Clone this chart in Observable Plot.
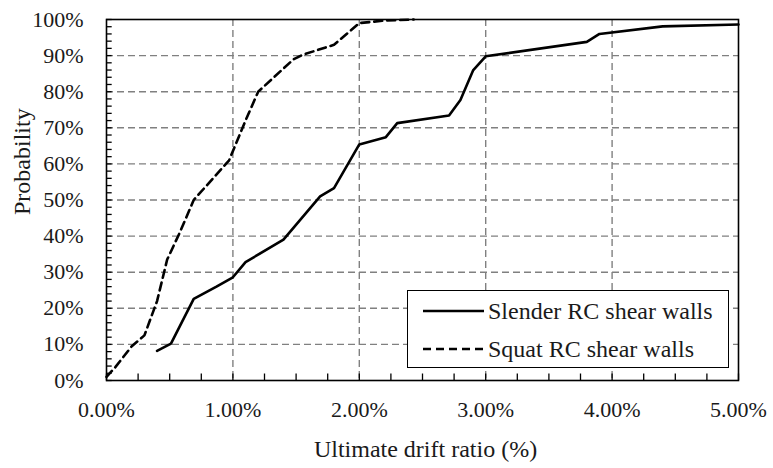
<!DOCTYPE html>
<html>
<head>
<meta charset="utf-8">
<script src="https://cdn.jsdelivr.net/npm/d3@7"></script>
<script src="https://cdn.jsdelivr.net/npm/@observablehq/plot@0.6"></script>
<style>
  html, body { margin: 0; padding: 0; background: #fff; }
  #wrap { position: relative; width: 773px; height: 468px; font-family: "Liberation Serif", "Times New Roman", serif; }
  #legend { position: absolute; left: 407px; top: 290px; width: 322px; height: 78px; border: 1.5px solid #000; background: #fff; box-sizing: border-box; }
  .row { position: absolute; left: 0; height: 26px; display: flex; align-items: center; font-size: 24px; color: #1a1a1a; white-space: nowrap; }
  .row svg { margin-left: 15px; margin-right: 4px; }
</style>
</head>
<body>
<div id="wrap"></div>
<script>
// Ultimate drift ratio (%) vs probability (%)
const slenderX = [0.40, 0.51, 0.69, 0.87, 1.00, 1.10, 1.40, 1.69, 1.80, 2.00, 2.21, 2.30, 2.71, 2.80, 2.90, 3.00, 3.80, 3.90, 4.40, 5.00];
const slenderY = [8.2, 10.2, 22.6, 26.0, 28.6, 32.8, 39.0, 51.0, 53.3, 65.4, 67.4, 71.3, 73.4, 77.7, 85.9, 89.8, 93.8, 96.0, 98.1, 98.6];
const squatX = [0.00, 0.07, 0.20, 0.30, 0.40, 0.48, 0.58, 0.69, 0.97, 1.10, 1.20, 1.48, 1.55, 1.80, 2.00, 2.20, 2.43];
const squatY = [1.0, 3.7, 9.5, 12.5, 22.0, 33.5, 41.0, 50.0, 61.0, 72.0, 80.0, 89.0, 90.2, 93.0, 99.0, 99.7, 100.0];
const seriesNames = ["Slender RC shear walls", "Squat RC shear walls"];
const xTicks = [0, 1, 2, 3, 4, 5];
const yTicks = [0, 10, 20, 30, 40, 50, 60, 70, 80, 90, 100];
const xGrid = [1, 2, 3, 4];
const yGrid = [10, 20, 30, 40, 50, 60, 70, 80, 90];
const xMinor = d3.range(0, 5.001, 0.25);
const yMinor = d3.range(0, 100.001, 2);
const xLabel = "Ultimate drift ratio (%)";
const yLabel = "Probability";

const slender = slenderX.map((x, i) => ({x, y: slenderY[i]}));
const squat = squatX.map((x, i) => ({x, y: squatY[i]}));

const gridStyle = {stroke: "#808080", strokeOpacity: 1, strokeWidth: 1.4, strokeDasharray: "7,4"};

const chart = Plot.plot({
  width: 773,
  height: 468,
  marginLeft: 106,
  marginRight: 35,
  marginTop: 19,
  marginBottom: 88,
  x: {domain: [0, 5]},
  y: {domain: [0, 100]},
  style: {fontFamily: "'Liberation Serif', 'Times New Roman', serif", fontSize: "22px", color: "#1a1a1a", background: "#fff", overflow: "visible"},
  marks: [
    Plot.gridX(xGrid, gridStyle),
    Plot.gridY(yGrid, gridStyle),
    Plot.ruleX(xMinor, {y1: 0, y2: 1.8, stroke: "#000", strokeWidth: 1.3}),
    Plot.ruleY(yMinor, {x1: 0, x2: 0.045, stroke: "#000", strokeWidth: 1.3}),
    Plot.line(squat, {x: "x", y: "y", stroke: "#000", strokeWidth: 2.6, strokeDasharray: "8,5"}),
    Plot.line(slender, {x: "x", y: "y", stroke: "#000", strokeWidth: 2.6}),
    Plot.frame({stroke: "#000", strokeWidth: 1.6}),
    Plot.axisX(xTicks, {tickSize: 0, tickPadding: 21, fontSize: 22, tickFormat: d => d.toFixed(2) + "%", label: null, fill: "#1a1a1a"}),
    Plot.axisY(yTicks, {tickSize: 0, tickPadding: 23, fontSize: 22, tickFormat: d => d + "%", label: null, fill: "#1a1a1a"}),
    Plot.text([xLabel], {frameAnchor: "bottom", dy: 76, dx: 3, fontSize: 24, fill: "#1a1a1a"}),
    Plot.text([yLabel], {frameAnchor: "left", dx: -84, dy: 15, rotate: -90, fontSize: 24, fill: "#1a1a1a"})
  ]
});

const wrap = document.getElementById("wrap");
wrap.appendChild(chart);

const legend = document.createElement("div");
legend.id = "legend";
const dashes = [null, "8,5"];
seriesNames.forEach((name, i) => {
  const row = document.createElement("div");
  row.className = "row";
  row.style.top = (i === 0 ? 7 : 45) + "px";
  row.innerHTML = `<svg width="61" height="10"><line x1="0" y1="5" x2="61" y2="5" stroke="#000" stroke-width="2.6" ${dashes[i] ? `stroke-dasharray="${dashes[i]}"` : ""}/></svg><span>${name}</span>`;
  legend.appendChild(row);
});
wrap.appendChild(legend);
</script>
</body>
</html>
